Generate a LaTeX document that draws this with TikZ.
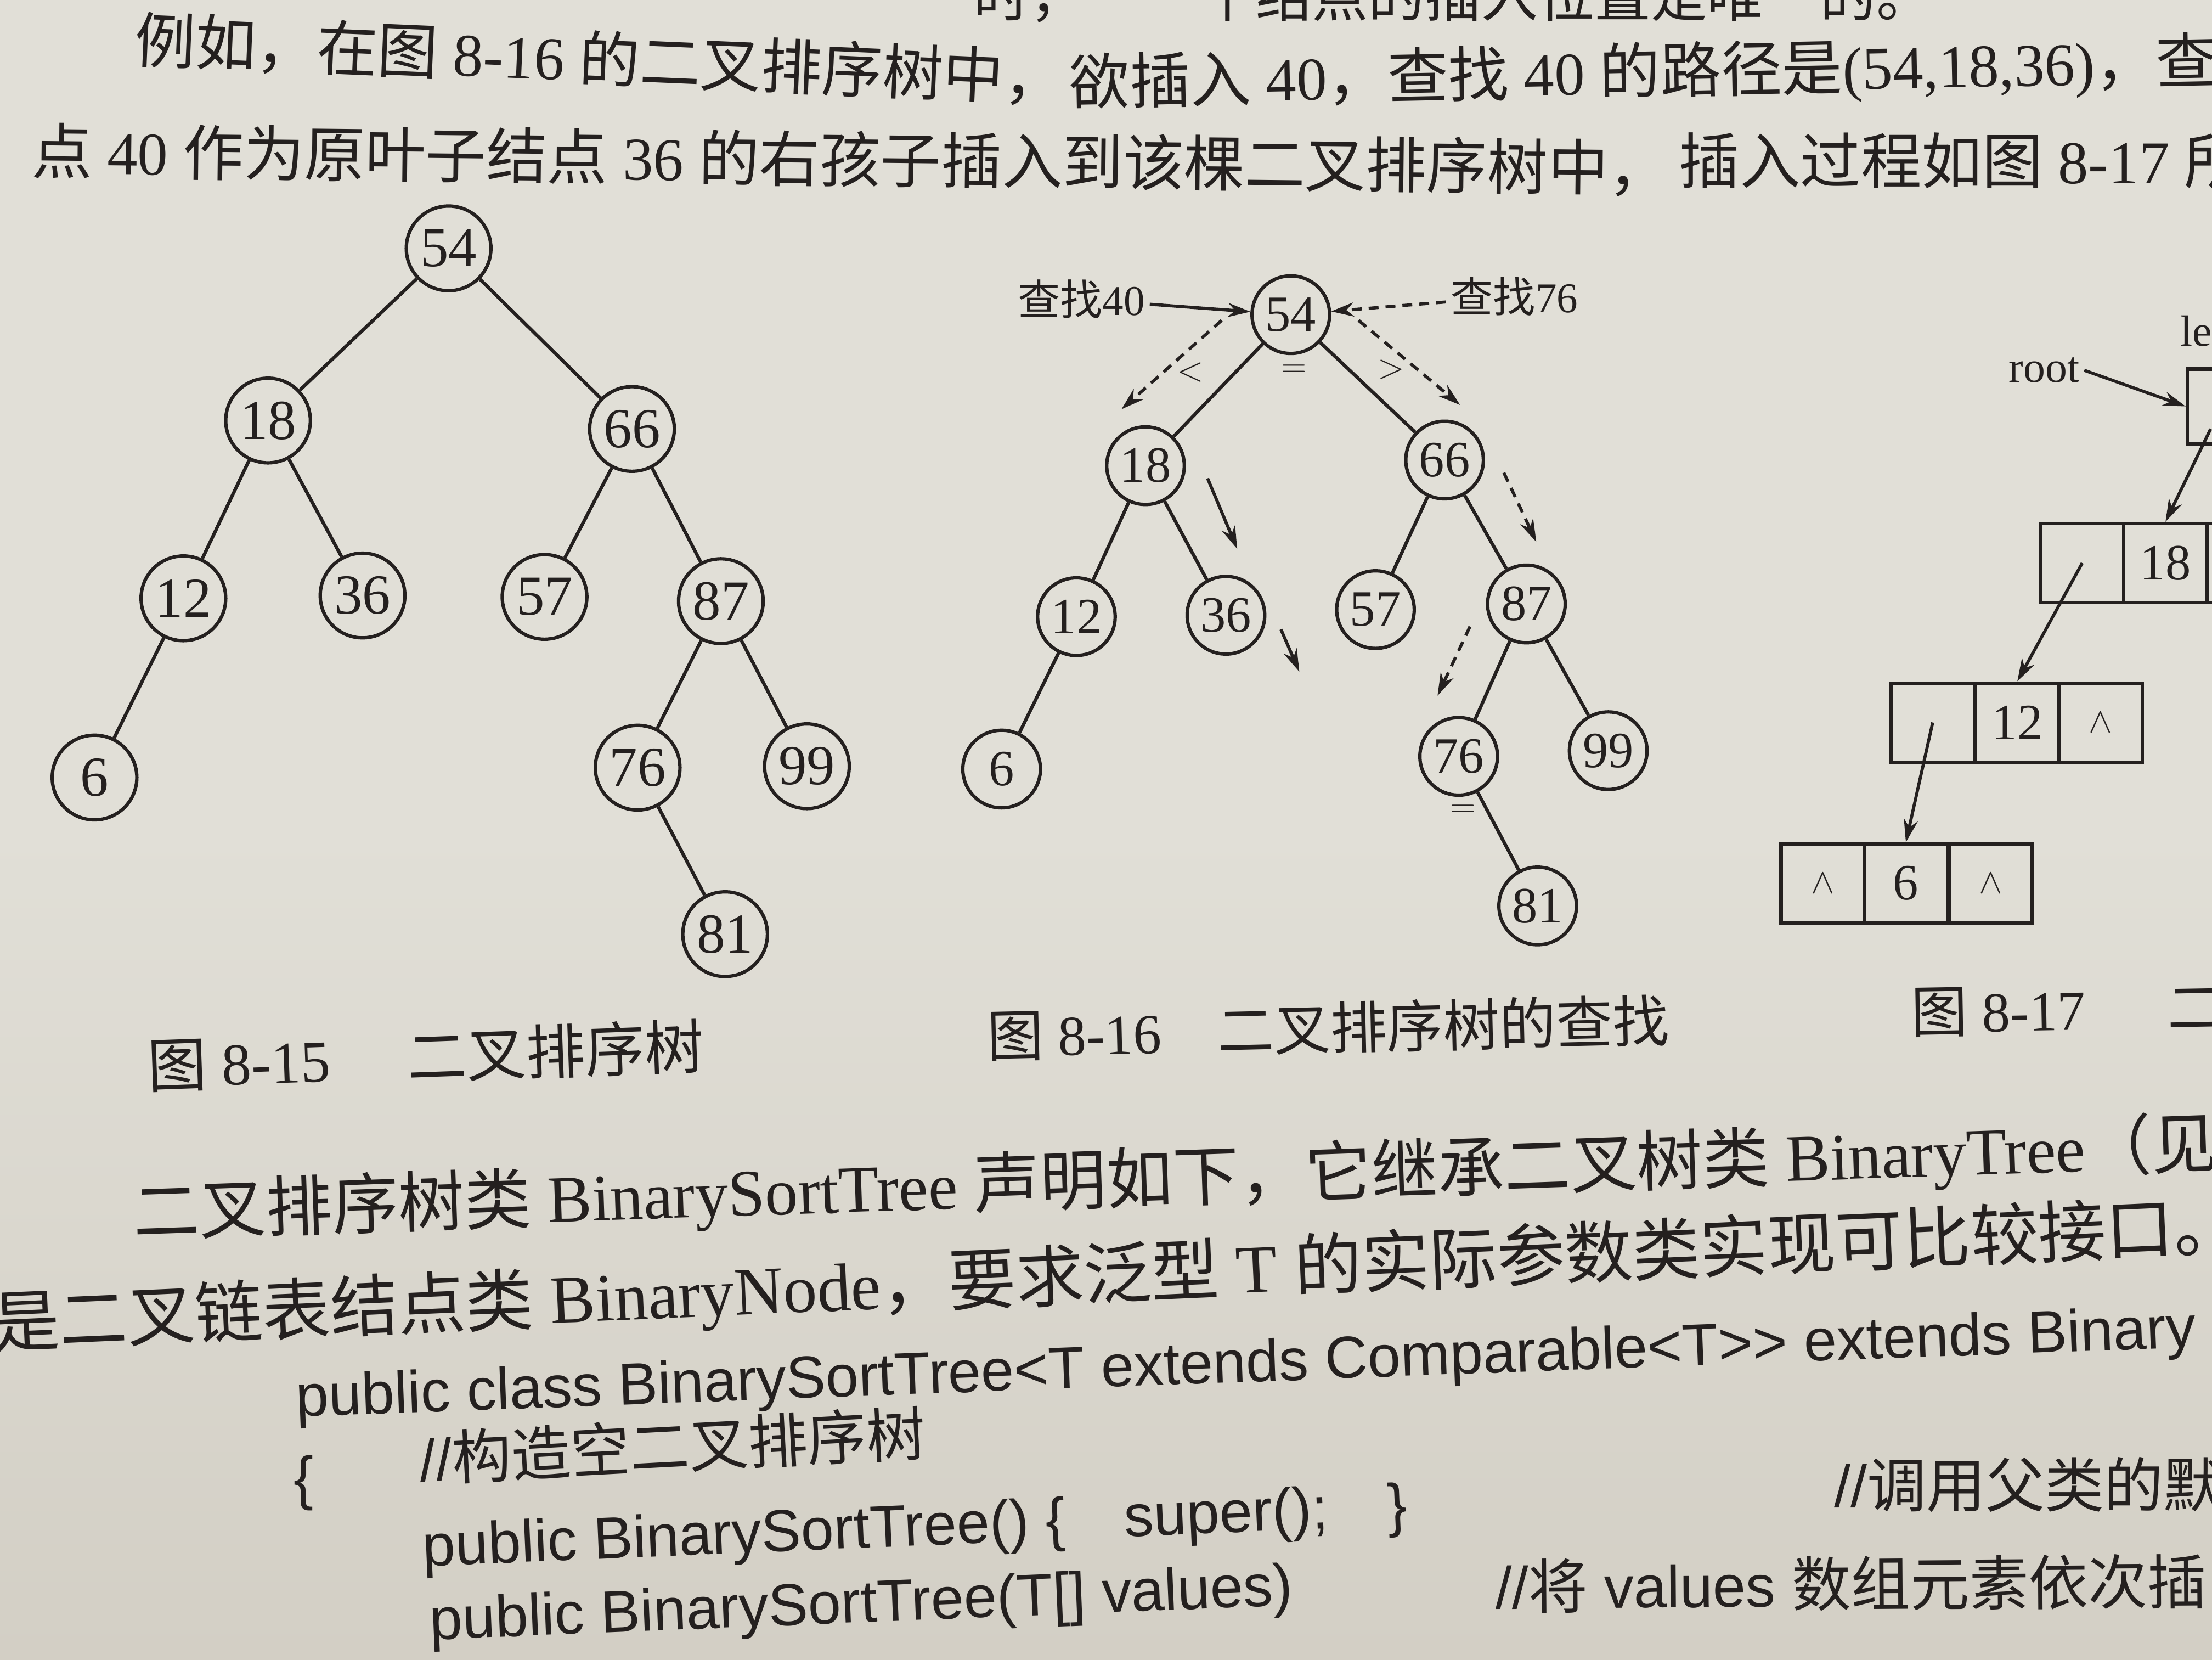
\documentclass[tikz,border=0pt]{standalone}
\usepackage{fontspec}
\setmainfont{Liberation Serif}
\newfontfamily\cjk{Noto Sans CJK SC}
\newfontfamily\codefont{Liberation Sans}
\usetikzlibrary{arrows.meta}
\newcommand\zh[1]{{\cjk #1}}
\definecolor{paper}{RGB}{225,223,215}
\definecolor{paperdark}{RGB}{211,207,197}
\definecolor{ink}{RGB}{36,32,31}
\tikzset{%
  keynode/.style  = {circle, draw=ink, line width=2.4pt, inner sep=0pt,%
                     minimum size=60pt, font=\fontsize{40}{40}\selectfont},%
  smallkey/.style = {keynode, minimum size=55pt, font=\fontsize{36}{36}\selectfont},%
  treeedge/.style = {draw=ink, line width=2.4pt},%
  walk/.style     = {draw=ink, line width=2.2pt, -{Stealth[length=16pt,width=10pt]}},%
  dashwalk/.style = {walk, dash pattern=on 7pt off 5pt},%
  cell/.style     = {rectangle, draw=ink, line width=2.4pt, inner sep=0pt,%
                     minimum width=59pt, minimum height=56pt, font=\fontsize{36}{36}\selectfont},%
  bodyline/.style = {anchor=base west, inner sep=0pt, font=\fontsize{43}{43}\selectfont},%
  caption/.style  = {anchor=base west, inner sep=0pt, font=\fontsize{40}{40}\selectfont},%
  bigline/.style  = {anchor=base west, inner sep=0pt, font=\fontsize{47}{47}\selectfont},%
  codeline/.style = {anchor=base west, inner sep=0pt, font=\fontsize{42}{42}\codefont}%
}
\begin{document}
\begin{tikzpicture}[x=1pt,y=-1pt,every node/.style={text=ink}]
\useasboundingbox (0,0) rectangle (1568,1176);
\shade[top color=paper, bottom color=paperdark, middle color=paper] (0,0) rectangle (1568,1176);
\clip (0,0) rectangle (1568,1176);

\node[caption] (t0a) at (690,12) {\zh{时，}};
\node[caption] (t0b) at (850,12) {\zh{个结点的插入位置是唯一的。}};
\node[bodyline,rotate=-2.4] (t1a) at (95,44) {\zh{例如，在图} 8-16 \zh{的二叉排序树中，}};
\node[bodyline,rotate=1.1] (t1b) at (758,74) {\zh{欲插入} 40\zh{，查找} 40 \zh{的路径是}(54,18,36)\zh{，查}};
\node[bodyline,rotate=-0.6] (t2a) at (22,123) {\zh{点} 40 \zh{作为原叶子结点} 36 \zh{的右孩子插入到该棵二叉排序树中，}};
\node[bodyline] (t2b) at (1190,130) {\zh{插入过程如图} 8-17 \zh{所}};

\node[keynode] (a54) at (318,176) {54};
\node[keynode] (a18) at (190,298) {18};
\node[keynode] (a66) at (448,304) {66};
\node[keynode] (a12) at (130,424) {12};
\node[keynode] (a36) at (257,422) {36};
\node[keynode] (a57) at (386,423) {57};
\node[keynode] (a87) at (511,426) {87};
\node[keynode] (a6)  at (67,551)  {6};
\node[keynode] (a76) at (452,544) {76};
\node[keynode] (a99) at (572,543) {99};
\node[keynode] (a81) at (514,662) {81};
\draw[treeedge] (a54) -- (a18) (a54) -- (a66) (a18) -- (a12) (a18) -- (a36)
  (a66) -- (a57) (a66) -- (a87) (a12) -- (a6) (a87) -- (a76) (a87) -- (a99)
  (a76) -- (a81);
\node[caption,rotate=2,font=\fontsize{42}{42}\selectfont] (cap15) at (105,771) {\zh{图} 8-15\hspace{55pt}\zh{二叉排序树}};

\node[smallkey] (b54) at (915,223) {54};
\node[smallkey] (b18) at (812,330) {18};
\node[smallkey] (b66) at (1024,326) {66};
\node[smallkey] (b12) at (763,437) {12};
\node[smallkey] (b36) at (869,436) {36};
\node[smallkey] (b57) at (975,432) {57};
\node[smallkey] (b87) at (1082,428) {87};
\node[smallkey] (b6)  at (710,545) {6};
\node[smallkey] (b76) at (1034,536) {76};
\node[smallkey] (b99) at (1140,532) {99};
\node[smallkey] (b81) at (1090,642) {81};
\draw[treeedge] (b54) -- (b18) (b54) -- (b66) (b18) -- (b12) (b18) -- (b36)
  (b66) -- (b57) (b66) -- (b87) (b12) -- (b6) (b87) -- (b76) (b87) -- (b99)
  (b76) -- (b81);
\node[anchor=east,font=\fontsize{30}{30}\selectfont] (find40) at (815,212) {\zh{查找}40};
\node[anchor=west,font=\fontsize{30}{30}\selectfont] (find76) at (1025,210) {\zh{查找}76};
\draw[walk] (find40) -- (b54);
\draw[dashwalk] (find76) -- (b54);
\coordinate (l1s) at (866,227); \coordinate (l1e) at (795,290);
\coordinate (r1s) at (963,227); \coordinate (r1e) at (1035,287);
\coordinate (l2s) at (856,339); \coordinate (l2e) at (877,389);
\coordinate (l3s) at (908,446); \coordinate (l3e) at (921,476);
\coordinate (r2s) at (1066,335); \coordinate (r2e) at (1089,384);
\coordinate (r3s) at (1042,444); \coordinate (r3e) at (1019,493);
\draw[dashwalk] (l1s) -- (l1e);
\draw[dashwalk] (r1s) -- (r1e);
\draw[walk] (l2s) -- (l2e);
\draw[walk] (l3s) -- (l3e);
\draw[dashwalk] (r2s) -- (r2e);
\draw[dashwalk] (r3s) -- (r3e);
\node[font=\fontsize{26}{26}\selectfont] (lt) at (844,264) {$<$};
\node[font=\fontsize{26}{26}\selectfont] (eq1) at (917,263) {$=$};
\node[font=\fontsize{26}{26}\selectfont] (gt) at (986,262) {$>$};
\node[font=\fontsize{26}{26}\selectfont] (eq2) at (1037,575) {$=$};
\node[caption,rotate=1.3] (cap16) at (700,749) {\zh{图} 8-16\hspace{40pt}\zh{二叉排序树的查找}};

\node[font=\fontsize{31}{31}\selectfont,anchor=base] (rootlbl) at (1449,271) {root};
\node[font=\fontsize{31}{31}\selectfont,anchor=base west] (leftlbl) at (1542,245) {left};
\node[cell,minimum height=53pt] (rbox) at (1580,288) {};
\node[cell] (c18a) at (1476,399) {};
\node[cell] (c18b) at (1535,399) {18};
\node[cell] (c18c) at (1594,399) {};
\node[cell] (c12a) at (1370,512) {};
\node[cell] (c12b) at (1430,512) {12};
\node[cell] (c12c) at (1489,512) {$\wedge$};
\node[cell] (c6a)  at (1292,626) {$\wedge$};
\node[cell] (c6b)  at (1351,626) {6};
\node[cell] (c6c)  at (1411,626) {$\wedge$};
\coordinate (rptr) at (1567,304);
\draw[walk] (rootlbl.east) -- (rbox.west);
\draw[walk] (rptr) -- (c18b.north);
\draw[walk] (c18a.center) -- (c12b.north);
\draw[walk] (c12a.center) -- (c6b.north);
\node[caption,rotate=1] (cap17) at (1355,732) {\zh{图} 8-17\hspace{58pt}\zh{二}};

\node[bigline,rotate=1.9] (t3) at (95,876) {\zh{二叉排序树类} BinarySortTree \zh{声明如下，它继承二叉树类} BinaryTree\zh{（见}};
\node[bigline,rotate=2.5,font=\fontsize{48}{48}\selectfont] (t4) at (-5,955) {\zh{是二叉链表结点类} BinaryNode\zh{，要求泛型} T \zh{的实际参数类实现可比较接口。}};

\node[codeline,rotate=2.1] (k1) at (210,1004) {public class BinarySortTree<T extends Comparable<T>> extends Binary};
\node[codeline] (k2a) at (208,1062) {\{};
\node[codeline,rotate=3] (k2b) at (298,1050) {//\zh{构造空二叉排序树}};
\node[codeline,rotate=2.4] (k3a) at (300,1110) {public BinarySortTree() \{\quad super();\quad \}};
\node[codeline] (k3b) at (1300,1068) {//\zh{调用父类的默}};
\node[codeline,rotate=2.3] (k4a) at (305,1162) {public BinarySortTree(T[] values)};
\node[codeline,rotate=0.4] (k4b) at (1060,1140) {//\zh{将} values \zh{数组元素依次插}};
\end{tikzpicture}
\end{document}
